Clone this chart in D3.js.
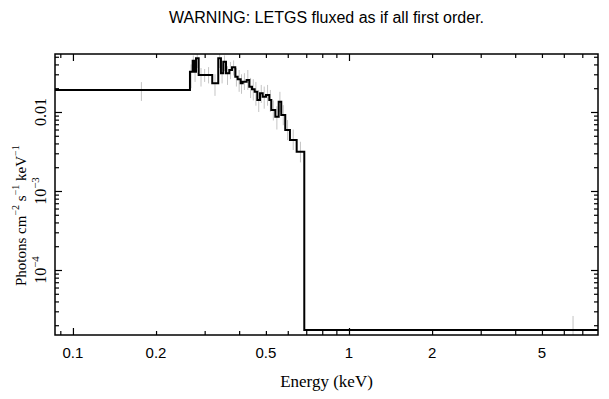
<!DOCTYPE html>
<html>
<head>
<meta charset="utf-8">
<script src="https://cdn.jsdelivr.net/npm/d3@7"></script>
<style>
  body { margin: 0; background: #fff; }
  svg { display: block; }
</style>
</head>
<body>
<svg id="chart"></svg>
<script>
// Model histogram: bin edges (keV) and flux per bin
const binEdges = [0.080, 0.2654, 0.2715, 0.2745, 0.2791, 0.2854, 0.3196, 0.3360, 0.3437, 0.3504,
    0.3584, 0.3684, 0.3768, 0.3873, 0.3951, 0.4051, 0.4120, 0.4259, 0.4353, 0.4452, 0.4553,
    0.4654, 0.4760, 0.4868, 0.5004, 0.5144, 0.5231, 0.5408, 0.5563, 0.5684, 0.5876, 0.6110,
    0.6463, 0.6887, 10];
const binFlux = [0.0190, 0.0324, 0.0446, 0.0324, 0.0479, 0.0294, 0.0231, 0.0479, 0.0309, 0.0434,
    0.0309, 0.0341, 0.0368, 0.0280, 0.0259, 0.0231, 0.0242, 0.0254, 0.0209, 0.0194, 0.0181,
    0.0142, 0.0173, 0.0156, 0.0164, 0.0142, 0.0106, 0.00872, 0.0135, 0.00916, 0.00592, 0.00442,
    0.00314, 1.74e-5];

// Data points (grey error bars)
const errEnergy = [0.177, 0.268, 0.273, 0.277, 0.282, 0.291, 0.300, 0.310, 0.327, 0.340, 0.347, 0.354,
    0.363, 0.372, 0.382, 0.391, 0.400, 0.408, 0.418, 0.430, 0.440, 0.450, 0.460, 0.471, 0.481,
    0.493, 0.507, 0.519, 0.532, 0.548, 0.562, 0.578, 0.599, 0.628, 0.667, 6.48];
const errLow = [0.0138, 0.020, 0.033, 0.024, 0.036, 0.021, 0.024, 0.023, 0.016, 0.036, 0.023, 0.033,
    0.022, 0.026, 0.029, 0.021, 0.018, 0.017, 0.019, 0.019, 0.015, 0.014, 0.012, 0.010, 0.013,
    0.011, 0.012, 0.010, 0.0078, 0.0060, 0.0100, 0.0068, 0.0044, 0.0033, 0.0023, 1.0e-5];
const errHigh = [0.0239, 0.040, 0.052, 0.042, 0.055, 0.036, 0.035, 0.037, 0.030, 0.056, 0.040, 0.052,
    0.038, 0.043, 0.045, 0.036, 0.034, 0.030, 0.031, 0.034, 0.027, 0.026, 0.024, 0.019, 0.022,
    0.021, 0.022, 0.019, 0.0140, 0.0118, 0.0180, 0.0122, 0.0079, 0.0060, 0.0042, 2.62e-5];

// Axis ticks
const xLabelTicks = [0.1, 0.2, 0.5, 1, 2, 5];
const xMajorTicks = [0.1, 1];
const xMinorTicks = [0.09, 0.2, 0.3, 0.4, 0.5, 0.6, 0.7, 0.8, 0.9, 2, 3, 4, 5, 6, 7];
const yMajorTicks = [1e-4, 1e-3, 1e-2];
const yMinorTicks = [2e-5, 3e-5, 4e-5, 5e-5, 6e-5, 7e-5, 8e-5, 9e-5,
    2e-4, 3e-4, 4e-4, 5e-4, 6e-4, 7e-4, 8e-4, 9e-4,
    2e-3, 3e-3, 4e-3, 5e-3, 6e-3, 7e-3, 8e-3, 9e-3,
    2e-2, 3e-2, 4e-2, 5e-2];
const yLabels = [[1e-2, "0.01", null], [1e-3, "10", "\u22123"], [1e-4, "10", "\u22124"]];

const W = 609, H = 399;
const margin = { top: 54, right: 11, bottom: 64, left: 55 };

const svg = d3.select("#chart").attr("width", W).attr("height", H);

const x = d3.scaleLog().domain([0.0861, 7.98]).range([margin.left, W - margin.right]);
const y = d3.scaleLog().domain([1.504e-5, 0.0542]).range([H - margin.bottom, margin.top]);

svg.append("defs").append("clipPath").attr("id", "plot-clip")
    .append("rect")
    .attr("x", margin.left).attr("y", margin.top)
    .attr("width", W - margin.left - margin.right)
    .attr("height", H - margin.top - margin.bottom);

const plot = svg.append("g").attr("clip-path", "url(#plot-clip)");

// Error bars
plot.selectAll(".err")
    .data(errEnergy)
    .enter()
    .append("line")
    .attr("x1", d => x(d)).attr("x2", d => x(d))
    .attr("y1", (d, i) => y(errLow[i]))
    .attr("y2", (d, i) => y(errHigh[i]))
    .attr("stroke", "#c4c4c4")
    .attr("stroke-width", 1);

// Step histogram of the model
const stepPts = [];
binFlux.forEach((v, i) => {
    stepPts.push([binEdges[i], v]);
    stepPts.push([binEdges[i + 1], v]);
});
plot.append("path")
    .attr("d", d3.line().x(d => x(d[0])).y(d => y(d[1]))(stepPts))
    .attr("fill", "none")
    .attr("stroke", "#000")
    .attr("stroke-width", 2)
    .attr("stroke-linejoin", "miter");

// Frame
svg.append("rect")
    .attr("x", margin.left).attr("y", margin.top)
    .attr("width", W - margin.left - margin.right)
    .attr("height", H - margin.top - margin.bottom)
    .attr("fill", "none")
    .attr("stroke", "#000")
    .attr("stroke-width", 1.5);

// Inward ticks on all four sides
function drawTicks(g, axisFn, scale, values, size, pos) {
    g.append("g")
        .attr("transform", pos)
        .call(axisFn(scale).tickValues(values).tickSize(-size).tickFormat(""))
        .call(a => a.select(".domain").remove())
        .selectAll("line").attr("stroke-width", 1.2);
}
const ticks = svg.append("g");
drawTicks(ticks, d3.axisBottom, x, xMajorTicks, 7, `translate(0,${H - margin.bottom})`);
drawTicks(ticks, d3.axisBottom, x, xMinorTicks, 4, `translate(0,${H - margin.bottom})`);
drawTicks(ticks, d3.axisTop, x, xMajorTicks, 7, `translate(0,${margin.top})`);
drawTicks(ticks, d3.axisTop, x, xMinorTicks, 4, `translate(0,${margin.top})`);
drawTicks(ticks, d3.axisLeft, y, yMajorTicks, 7, `translate(${margin.left},0)`);
drawTicks(ticks, d3.axisLeft, y, yMinorTicks, 4, `translate(${margin.left},0)`);
drawTicks(ticks, d3.axisRight, y, yMajorTicks, 7, `translate(${W - margin.right},0)`);
drawTicks(ticks, d3.axisRight, y, yMinorTicks, 4, `translate(${W - margin.right},0)`);

// X tick labels
svg.selectAll(".xlab")
    .data(xLabelTicks)
    .enter()
    .append("text")
    .attr("x", d => x(d))
    .attr("y", 358)
    .attr("text-anchor", "middle")
    .style("font-family", "'Liberation Sans', Arial, sans-serif")
    .style("font-size", "15px")
    .text(d => d);

// Y tick labels (rotated)
const ylab = svg.selectAll(".ylab")
    .data(yLabels)
    .enter()
    .append("text")
    .attr("transform", d => `translate(46,${y(d[0])}) rotate(-90)`)
    .attr("text-anchor", "middle")
    .style("font-family", "'Liberation Serif', 'Times New Roman', serif")
    .style("font-size", "16px");
ylab.append("tspan").text(d => d[1]);
ylab.filter(d => d[2]).append("tspan")
    .attr("dy", -7)
    .style("font-size", "11px")
    .text(d => d[2]);

// Axis titles
svg.append("text")
    .attr("x", (margin.left + W - margin.right) / 2)
    .attr("y", 387)
    .attr("text-anchor", "middle")
    .style("font-family", "'Liberation Serif', 'Times New Roman', serif")
    .style("font-size", "17px")
    .text("Energy (keV)");

const yTitle = svg.append("text")
    .attr("transform", "translate(26,286) rotate(-90)")
    .attr("text-anchor", "start")
    .style("font-family", "'Liberation Serif', 'Times New Roman', serif")
    .style("font-size", "15px");
[["Photons cm", false], ["\u22122", true], [" s", false], ["\u22121", true], [" keV", false], ["\u22121", true]]
    .forEach(([t, sup], i, arr) => {
        const prevSup = i > 0 && arr[i - 1][1];
        yTitle.append("tspan")
            .attr("dy", sup ? -7 : (prevSup ? 7 : 0))
            .style("font-size", sup ? "10px" : "15px")
            .text(t);
    });

// Title
svg.append("text")
    .attr("x", (margin.left + W - margin.right) / 2)
    .attr("y", 23)
    .attr("text-anchor", "middle")
    .style("font-family", "'Liberation Sans', Arial, sans-serif")
    .style("font-size", "16px")
    .text("WARNING: LETGS fluxed as if all first order.");
</script>
</body>
</html>
